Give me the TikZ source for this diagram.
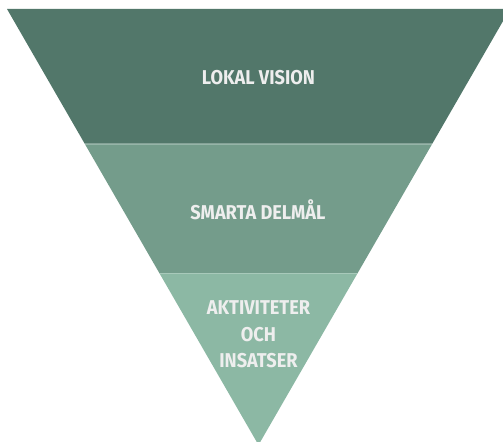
\documentclass[tikz,border=0pt]{standalone}
\usepackage{fontspec}
\setmainfont{Fira Sans}[FakeStretch=0.91]
\definecolor{topband}{HTML}{52776A}
\definecolor{midband}{HTML}{749C8B}
\definecolor{lowband}{HTML}{8CB8A4}
\definecolor{labeltext}{HTML}{EEEEEE}
\begin{document}
\begin{tikzpicture}[x=0.75pt,y=-0.75pt,
  label/.style={text=labeltext,font=\fontsize{15}{20}\selectfont\bfseries,align=center,inner sep=0pt}]
\useasboundingbox (0,0) rectangle (503,442);
\clip (0,0) rectangle (503,442);
\fill[topband] (7,9) -- (510,9) -- (432.3,143.7) -- (84.7,143.7) -- cycle;
\fill[midband] (84.7,143.7) -- (432.3,143.7) -- (357.7,273) -- (159.3,273) -- cycle;
\fill[lowband] (159.3,273) -- (357.7,273) -- (258.5,445) -- cycle;
\draw[white,opacity=0.25,line width=0.75pt] (85.2,144.2) -- (431.8,144.2);
\draw[white,opacity=0.25,line width=0.75pt] (159.8,273.5) -- (357.2,273.5);
\node[label] (vision) at (258.5,77.5) {LOKAL VISION};
\node[label] (delmal) at (258,209.5) {SMARTA DELMÅL};
\node[label] (akt) at (258.5,334.5) {AKTIVITETER\\OCH\\INSATSER};
\end{tikzpicture}
\end{document}
